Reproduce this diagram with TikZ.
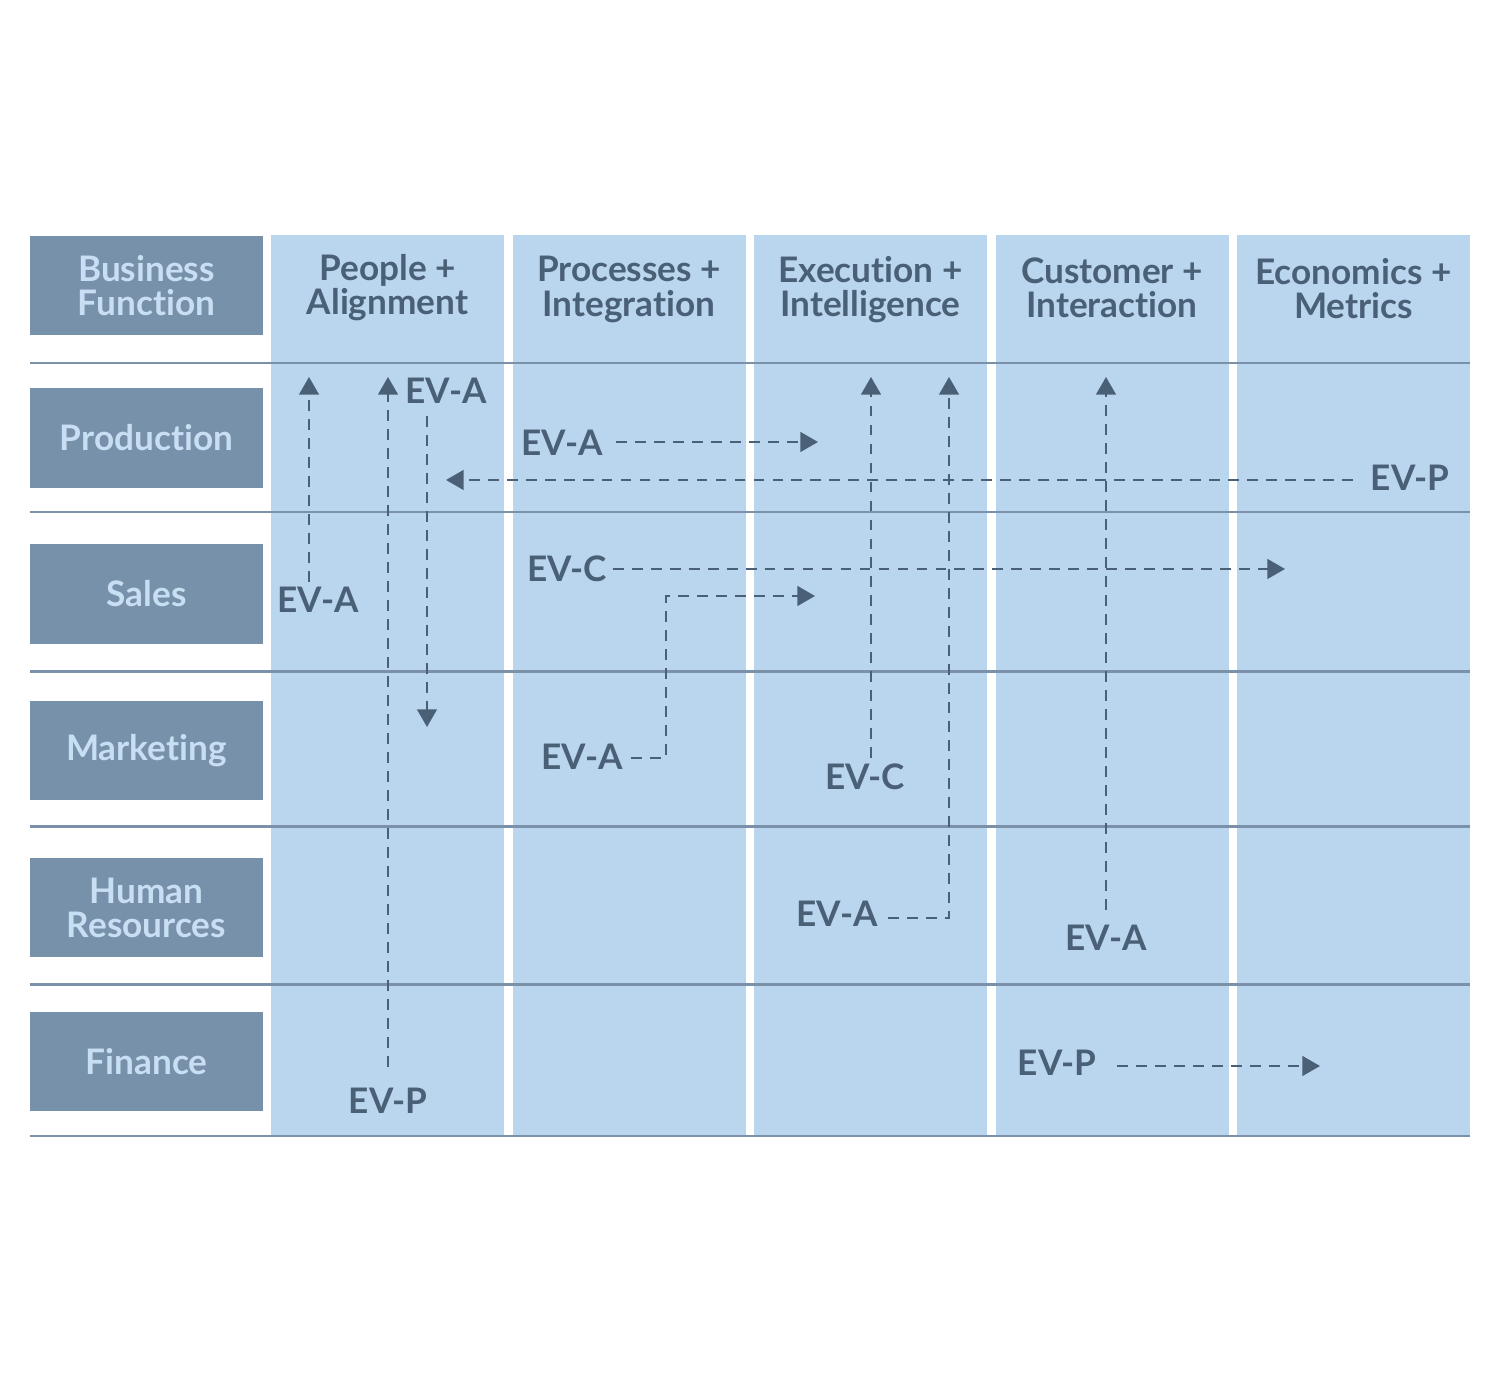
\documentclass[tikz,border=0pt]{standalone}
\usepackage{fontspec}
\setmainfont{Lato}[Ligatures={NoCommon}]
\usetikzlibrary{arrows.meta}

\definecolor{colfill}{HTML}{BAD5EE}
\definecolor{boxfill}{HTML}{7891AB}
\definecolor{boxtext}{HTML}{C8DEF3}
\definecolor{inkblue}{HTML}{4A6076}
\definecolor{rulegray}{HTML}{7A91A9}

\tikzset{
  rowbox/.style={fill=boxfill, text=boxtext, minimum width=2.33cm, minimum height=0.99cm,
    inner sep=0pt, align=center, font=\bfseries\fontsize{10}{9.7}\selectfont},
  colhead/.style={text=inkblue, inner sep=0pt, align=center, font=\bfseries\fontsize{10}{9.7}\selectfont},
  evlabel/.style={text=inkblue, inner sep=0pt, font=\bfseries\fontsize{10}{12}\selectfont},
  flow/.style={draw=inkblue, line width=0.6pt, dash pattern=on 3.1pt off 2.3pt,
    -{Triangle[length=5pt,width=5.6pt]}},
}

\begin{document}
\begin{tikzpicture}[x=0.01cm,y=-0.01cm]
    \useasboundingbox (0,0) rectangle (1500,1374);

    % columns
    \foreach \cx in {271,512.5,754,995.5,1237}
      \fill[colfill] (\cx,235) rectangle ++(233,902);

    % row rules
    \foreach \ry in {363,512,671.5,826.5,984.5,1136}
      \draw[rulegray, line width=0.6pt] (30,\ry) -- (1470,\ry);

    % business functions
    \node[rowbox] (business) at (146.5,285.5) {Business\\Function};
    \node[rowbox] (production) at (146.5,438) {Production};
    \node[rowbox] (sales) at (146.5,594) {Sales};
    \node[rowbox] (marketing) at (146.5,750.5) {Marketing};
    \node[rowbox] (hr) at (146.5,907.5) {Human\\Resources};
    \node[rowbox] (finance) at (146.5,1061.5) {Finance};

    % column headers
    \node[colhead] (people) at (387.5,287.5) {People +\\Alignment};
    \node[colhead] (processes) at (629,289.5) {Processes +\\Integration};
    \node[colhead] (execution) at (870.5,289.5) {Execution +\\Intelligence};
    \node[colhead] (customer) at (1112,287.5) {Customer +\\Interaction};
    \node[colhead] (economics) at (1353.5,288.5) {Economics +\\Metrics};

    % arrow tips
    \coordinate (t1) at (309,377);
    \coordinate (t2) at (388,377);
    \coordinate (t3) at (427,727);
    \coordinate (t4) at (818,442);
    \coordinate (t5) at (446,480);
    \coordinate (t6) at (1285,569);
    \coordinate (k7) at (666,596);
    \coordinate (t7) at (815,596);
    \coordinate (t8) at (871,377);
    \coordinate (t9) at (949,377);
    \coordinate (t10) at (1106,377);
    \coordinate (t11) at (1320,1066);

    % value labels
    \node[evlabel] (eva1) at (318,600) {EV-A};
    \node[evlabel] (evp1) at (388,1101) {EV-P};
    \node[evlabel] (eva2) at (446,391) {EV-A};
    \node[evlabel] (eva3) at (562,443) {EV-A};
    \node[evlabel] (evp2) at (1410,478) {EV-P};
    \node[evlabel] (evc1) at (567,569) {EV-C};
    \node[evlabel] (eva4) at (582,757) {EV-A};
    \node[evlabel] (evc2) at (865,777) {EV-C};
    \node[evlabel] (eva5) at (837,914) {EV-A};
    \node[evlabel] (eva6) at (1106,938) {EV-A};
    \node[evlabel] (evp3) at (1057,1063) {EV-P};

    % flows
    \draw[flow] (t1 |- eva1.north) ++(0,-5) -- (t1);
    \draw[flow] (evp1.north) ++(0,-21) -- (t2);
    \draw[flow] (t3 |- eva2.south) ++(0,12) -- (t3);
    \draw[flow] (eva3.east) ++(13,-1) -- (t4);
    \draw[flow] (evp2.west) ++(-17,2) -- (t5);
    \draw[flow] (evc1.east) ++(5,0) -- (t6);
    \draw[flow] (eva4.east) ++(8,1) -| (k7) -- (t7);
    \draw[flow] (t8 |- evc2.north) ++(0,-5) -- (t8);
    \draw[flow] (eva5.east) ++(10,4) -| (t9);
    \draw[flow] (eva6.north) ++(0,-15) -- (t10);
    \draw[flow] (evp3.east) ++(20,3) -- (t11);
\end{tikzpicture}
\end{document}
